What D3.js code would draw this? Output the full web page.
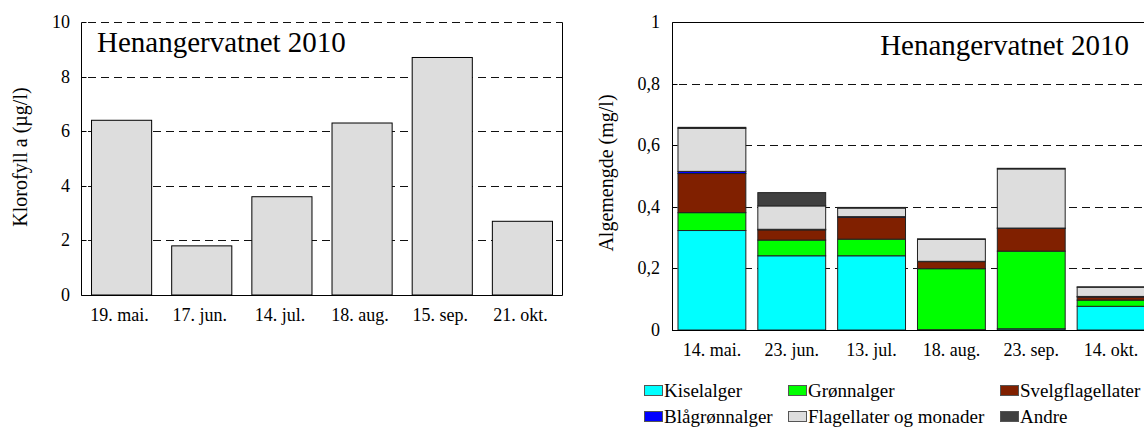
<!DOCTYPE html>
<html>
<head>
<meta charset="utf-8">
<script src="https://cdn.jsdelivr.net/npm/d3@7"></script>
<style>
  body { margin: 0; background: #fff; }
  svg { display: block; font-family: "Liberation Serif", "Times New Roman", serif; }
</style>
</head>
<body>
<svg id="chart" width="1144" height="427"></svg>
<script>
/* Data
   ========================================================================== */
var klorDates = ["19. mai.", "17. jun.", "14. jul.", "18. aug.", "15. sep.", "21. okt."];
var klorValues = [6.4, 1.8, 3.6, 6.3, 8.7, 2.7];
var klorTicks = [0, 2, 4, 6, 8, 10];

var algeDates = ["14. mai.", "23. jun.", "13. jul.", "18. aug.", "23. sep.", "14. okt."];
var groups = ["Kiselalger", "Grønnalger", "Svelgflagellater", "Blågrønnalger", "Flagellater og monader", "Andre"];
var kiselalger = [0.323, 0.241, 0.241, 0.001, 0.004, 0.077];
var gronnalger = [0.058, 0.051, 0.054, 0.198, 0.252, 0.020];
var svelgflagellater = [0.127, 0.033, 0.071, 0.023, 0.074, 0.010];
var blagronnalger = [0.007, 0.002, 0.002, 0.001, 0.001, 0.002];
var flagellater = [0.140, 0.076, 0.028, 0.071, 0.192, 0.030];
var andre = [0.003, 0.043, 0.002, 0.002, 0.002, 0.001];
var algeTicks = [0, 0.2, 0.4, 0.6, 0.8, 1];
var groupColors = ["#00ffff", "#00ff00", "#802000", "#0000ff", "#dddddd", "#404040"];

var svg = d3.select("#chart");
var fmt = function(d) { return String(d).replace(".", ","); };
var tickSize = 18, labelSize = 18;

/* Klorofyll chart
   ========================================================================== */
var x1 = d3.scaleBand().domain(klorDates).range([81.5, 562.5])
    .paddingInner(0.25).paddingOuter(0.125);
var y1 = d3.scaleLinear().domain([0, 10]).range([295, 22]);

var left = svg.append("g");

// dashed grid lines, behind the bars
left.selectAll(".grid")
    .data(klorTicks.filter(function(d) { return d > 0; }))
    .enter().append("line")
    .attr("x1", 82).attr("x2", 562.5)
    .attr("y1", function(d) { return Math.round(y1(d)) + 0.5; })
    .attr("y2", function(d) { return Math.round(y1(d)) + 0.5; })
    .attr("stroke", "#111").attr("stroke-dasharray", "8,5")
    .attr("stroke-dashoffset", -6);

left.selectAll(".bar")
    .data(klorValues)
    .enter().append("rect")
    .attr("x", function(d, i) { return x1(klorDates[i]); })
    .attr("width", x1.bandwidth())
    .attr("y", function(d) { return y1(d); })
    .attr("height", function(d) { return y1(0) - y1(d); })
    .attr("fill", "#dddddd")
    .attr("stroke", "#000").attr("stroke-width", 1);

// frame
left.append("path")
    .attr("d", "M81.5,22.5 V295.5 H562.5 M562.5,22.5 V295.5")
    .attr("fill", "none").attr("stroke", "#000");

// y ticks
left.selectAll(".ytick")
    .data(klorTicks)
    .enter().append("text")
    .attr("x", 70).attr("y", function(d) { return y1(d) + 6; })
    .attr("text-anchor", "end").attr("font-size", tickSize)
    .text(function(d) { return d; });

left.selectAll(".ytickmark")
    .data(klorTicks)
    .enter().append("line")
    .attr("x1", 81.5).attr("x2", 86.5)
    .attr("y1", function(d) { return Math.round(y1(d)) + 0.5; })
    .attr("y2", function(d) { return Math.round(y1(d)) + 0.5; })
    .attr("stroke", "#000");

// x labels
left.selectAll(".xlab")
    .data(klorDates)
    .enter().append("text")
    .attr("x", function(d) { return x1(d) + x1.bandwidth() / 2 - 2; })
    .attr("y", 321)
    .attr("text-anchor", "middle").attr("font-size", labelSize)
    .text(function(d) { return d; });

left.append("text")
    .attr("transform", "translate(27,157) rotate(-90)")
    .attr("text-anchor", "middle").attr("font-size", 20)
    .text("Klorofyll a (µg/l)");

left.append("text")
    .attr("x", 97).attr("y", 52)
    .attr("font-size", 29)
    .text("Henangervatnet 2010");

/* Algemengde chart
   ========================================================================== */
var x2 = d3.scaleBand().domain(algeDates).range([672, 1151])
    .paddingInner(0.15).paddingOuter(0.075);
var y2 = d3.scaleLinear().domain([0, 1]).range([330, 22]);

var seriesValues = [kiselalger, gronnalger, svelgflagellater, blagronnalger, flagellater, andre];
var table = algeDates.map(function(d, i) {
    var row = { date: d };
    groups.forEach(function(g, j) { row[g] = seriesValues[j][i]; });
    return row;
});
var stacked = d3.stack().keys(groups)(table);

var right = svg.append("g");

right.selectAll(".grid")
    .data(algeTicks.filter(function(d) { return d > 0 && d < 1; }))
    .enter().append("line")
    .attr("x1", 673).attr("x2", 1151)
    .attr("y1", function(d) { return Math.round(y2(d)) + 0.5; })
    .attr("y2", function(d) { return Math.round(y2(d)) + 0.5; })
    .attr("stroke", "#111").attr("stroke-dasharray", "8,5")
    .attr("stroke-dashoffset", -6);

right.selectAll(".series")
    .data(stacked)
    .enter().append("g")
    .attr("fill", function(d, i) { return groupColors[i]; })
    .selectAll("rect")
    .data(function(d) { return d; })
    .enter().append("rect")
    .attr("x", function(d) { return x2(d.data.date); })
    .attr("width", x2.bandwidth())
    .attr("y", function(d) { return y2(d[1]); })
    .attr("height", function(d) { return y2(d[0]) - y2(d[1]); })
    .attr("stroke", "#222").attr("stroke-width", 1);

right.append("path")
    .attr("d", "M672.5,330 V22.5 H1151 M672,330.5 H1151")
    .attr("fill", "none").attr("stroke", "#000");

right.selectAll(".ytick")
    .data(algeTicks)
    .enter().append("text")
    .attr("x", 660).attr("y", function(d) { return y2(d) + 6; })
    .attr("text-anchor", "end").attr("font-size", tickSize)
    .text(fmt);

right.selectAll(".ytickmark")
    .data(algeTicks)
    .enter().append("line")
    .attr("x1", 672.5).attr("x2", 677.5)
    .attr("y1", function(d) { return Math.round(y2(d)) + 0.5; })
    .attr("y2", function(d) { return Math.round(y2(d)) + 0.5; })
    .attr("stroke", "#000");

right.selectAll(".xlab")
    .data(algeDates)
    .enter().append("text")
    .attr("x", function(d) { return x2(d) + x2.bandwidth() / 2; })
    .attr("y", 356)
    .attr("text-anchor", "middle").attr("font-size", labelSize)
    .text(function(d) { return d; });

right.append("text")
    .attr("transform", "translate(613,173) rotate(-90)")
    .attr("text-anchor", "middle").attr("font-size", 20)
    .text("Algemengde (mg/l)");

right.append("text")
    .attr("x", 1129).attr("y", 55)
    .attr("text-anchor", "end").attr("font-size", 29)
    .text("Henangervatnet 2010");

// legend
var legendX = [644, 788, 1000];
var legendY = [385, 411];
var legend = right.selectAll(".legend")
    .data(groups)
    .enter().append("g")
    .attr("transform", function(d, i) {
        return "translate(" + legendX[i % 3] + "," + legendY[Math.floor(i / 3)] + ")";
    });
legend.append("rect")
    .attr("x", 0.5).attr("y", 0.5).attr("width", 18).attr("height", 10)
    .attr("fill", function(d, i) { return groupColors[i]; })
    .attr("stroke", "#555");
legend.append("text")
    .attr("x", 20).attr("y", 12)
    .attr("font-size", 19)
    .text(function(d) { return d; });
</script>
</body>
</html>
